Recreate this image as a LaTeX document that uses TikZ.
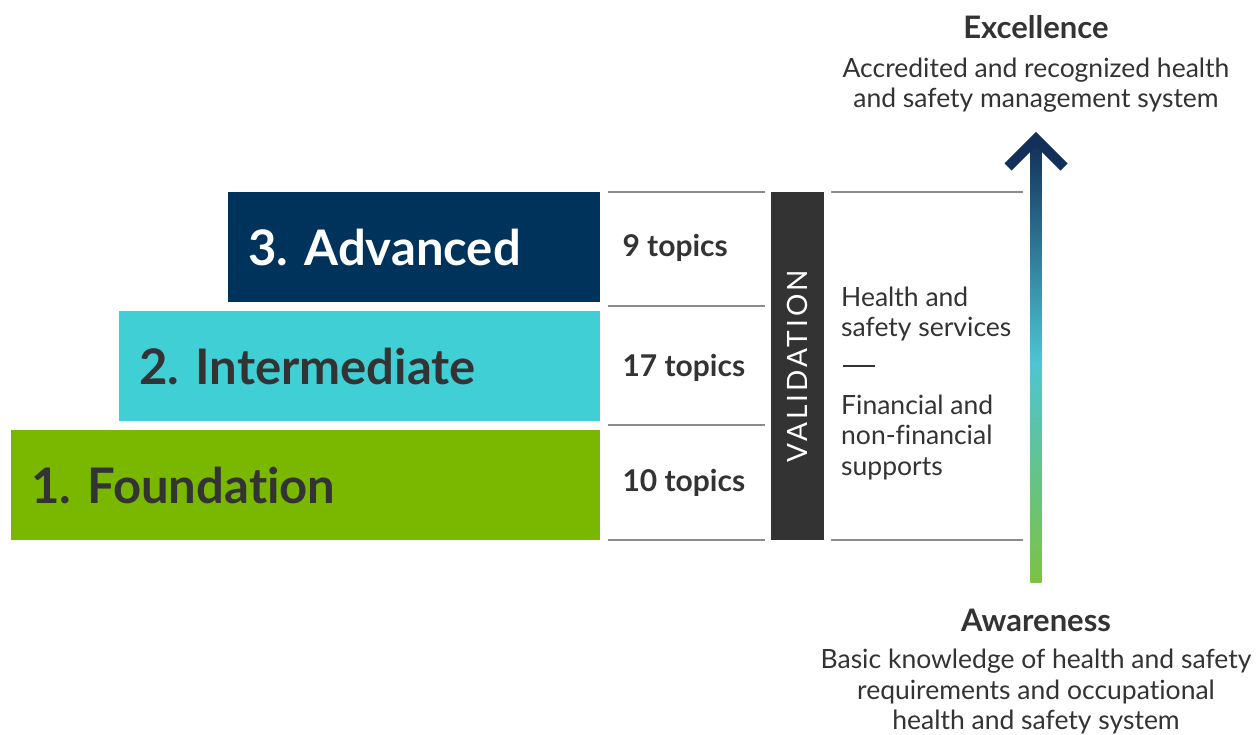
\documentclass[tikz,border=0pt]{standalone}
\usepackage{fontspec}
\setmainfont{Lato}[Ligatures=NoCommon]
\usetikzlibrary{positioning}
\frenchspacing

\definecolor{foundgreen}{HTML}{7AB800}
\definecolor{intercyan}{HTML}{41CFD6}
\definecolor{advnavy}{HTML}{00335C}
\definecolor{darktext}{HTML}{333333}
\definecolor{rulegray}{HTML}{8C8C8C}
\definecolor{arrtop}{HTML}{12305A}
\definecolor{arrmid}{HTML}{4DC5D3}
\definecolor{arrbot}{HTML}{7DC242}

\begin{document}
\begin{tikzpicture}[x=1pt, y=1pt,
  level/.style={anchor=north west, minimum height=110pt, inner xsep=20pt,
    inner ysep=0pt, align=left, font=\fontsize{49}{52}\selectfont\bfseries},
  topics/.style={anchor=west, text=darktext, font=\fontsize{30}{33}\selectfont\bfseries},
  body/.style={text=darktext, font=\fontsize{26.5}{30.5}\selectfont},
  head/.style={text=darktext, font=\fontsize{31}{34}\selectfont\bfseries},
  rule/.style={draw=rulegray, line width=2pt}]
  \useasboundingbox (0,0) rectangle (1256,734);

  % the three levels
  \node[level, fill=foundgreen, text=darktext, text width=549pt] (found) at (11,304) {1. Foundation};
  \node[level, fill=intercyan, text=darktext, text width=441pt] (inter) at (119,423) {2. Intermediate};
  \node[level, fill=advnavy, text=white, text width=332pt] (adv) at (228,542) {3. Advanced};

  % topics column
  \coordinate (t0) at (608,541.5);
  \coordinate (t1) at (608,427.5);
  \coordinate (t2) at (608,308.5);
  \coordinate (t3) at (608,194);
  \coordinate (u0) at (765,541.5);
  \coordinate (u1) at (765,427.5);
  \coordinate (u2) at (765,308.5);
  \coordinate (u3) at (765,194);
  \foreach \i in {0,...,3}
    \draw[rule] (t\i) -- (u\i);
  \node[topics] (adtop) at (619,486) {9 topics};
  \node[topics] (intop) at (619,366) {17 topics};
  \node[topics] (fotop) at (619,251) {10 topics};

  % validation bar
  \node[fill=darktext, text=white, rotate=90, minimum width=348pt, minimum height=53pt,
    inner sep=0pt, font=\fontsize{28}{30}\selectfont\addfontfeature{LetterSpace=11}]
    (valid) at (797.5,368) {VALIDATION};

  % supports column
  \coordinate (s0) at (831,541.5);
  \coordinate (s1) at (1023,541.5);
  \coordinate (s2) at (831,194);
  \coordinate (s3) at (1023,194);
  \draw[rule] (s0) -- (s1);
  \draw[rule] (s2) -- (s3);
  \node[body, anchor=west, align=left, inner sep=0pt] (serv) at (841,420) {Health and\\safety services};
  \coordinate (d0) at (843,368);
  \coordinate (d1) at (875,368);
  \draw[darktext, line width=2.5pt] (d0) -- (d1);
  \node[body, anchor=west, align=left, inner sep=0pt] (supp) at (841,296.5) {Financial and\\non-financial\\supports};

  % progress arrow
  \coordinate (arrlo) at (1030.5,151);
  \coordinate (arrhi) at (1041.5,592);
  \shade[bottom color=arrbot, top color=arrtop, middle color=arrmid] (arrlo) rectangle (arrhi);
  \coordinate (tipl) at (1008,567);
  \coordinate (tip) at (1036,595);
  \coordinate (tipr) at (1064,567);
  \draw[arrtop, line width=10pt, line join=miter] (tipl) -- (tip) -- (tipr);

  % end points
  \node[head] (exc) at (1036,707) {Excellence};
  \node[body, align=center] (exctext) at (1036,649) {Accredited and recognized health\\and safety management system};
  \node[head] (aware) at (1036,114) {Awareness};
  \node[body, align=center] (awaretext) at (1036,42) {Basic knowledge of health and safety\\requirements and occupational\\health and safety system};
\end{tikzpicture}
\end{document}
